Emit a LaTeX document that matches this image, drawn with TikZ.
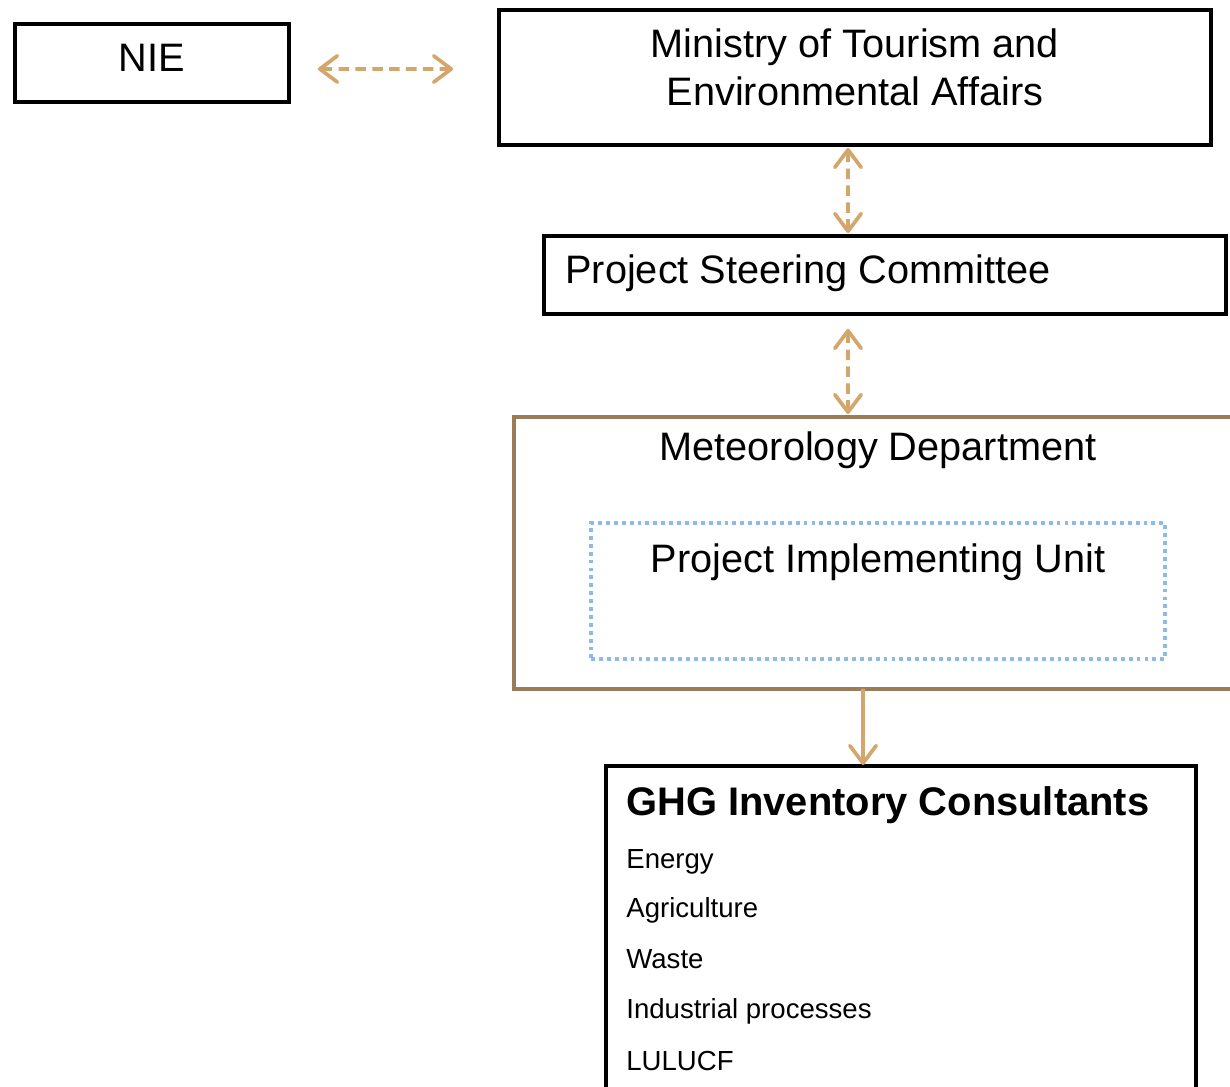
\documentclass[tikz,border=0pt]{standalone}
\usepackage{fontspec}
\setmainfont{Liberation Sans}
\usetikzlibrary{arrows.meta}
\definecolor{linktan}{HTML}{D3A66C}
\definecolor{deptbrown}{HTML}{9B7C56}
\definecolor{unitblue}{HTML}{8DBAE8}
\tikzset{
  frame/.style={draw=black, line width=2.3pt, rectangle, inner sep=0pt, outer sep=0pt},
  deptframe/.style={draw=deptbrown, line width=2.5pt, rectangle, inner sep=0pt, outer sep=0pt},
  unitframe/.style={draw=unitblue, line width=2.3pt, rectangle, inner sep=0pt, outer sep=0pt,
    dash pattern=on 2.2pt off 2.3pt},
  biglabel/.style={font=\fontsize{22.6}{27.2}\selectfont, inner sep=0pt, align=center},
  itemlabel/.style={font=\fontsize{15.7}{19}\selectfont, inner sep=0pt, anchor=base west},
  boldlabel/.style={font=\fontsize{22.7}{26}\selectfont\bfseries, inner sep=0pt, anchor=base west},
  barb/.tip={Straight Barb[length=10pt, width=15pt, round]},
  link/.style={draw=linktan, line width=2.1pt, dash pattern=on 6pt off 3.6pt, barb-barb},
  feed/.style={draw=linktan, line width=2.1pt, -barb},
}
\begin{document}
\begin{tikzpicture}[x=0.02cm, y=-0.02cm]
  \clip (0,0) rectangle (1230,1087);
  \fill[white] (0,0) rectangle (1230,1087);

  % boxes
  \node[frame, minimum width=5.48cm, minimum height=1.56cm] (nie) at (152,63) {};
  \node[frame, minimum width=14.24cm, minimum height=2.7cm] (min) at (855,77.5) {};
  \node[frame, minimum width=13.64cm, minimum height=1.56cm] (psc) at (885,275) {};
  \node[deptframe, minimum width=14.56cm, minimum height=5.44cm] (met) at (878,553) {};
  \node[unitframe, minimum width=11.48cm, minimum height=2.72cm] (piu) at (878,591) {};
  \node[frame, minimum width=11.8cm, minimum height=6.56cm] (ghg) at (901,930) {};

  % box texts
  \node[biglabel, anchor=base] (nietxt) at (152,72) {NIE};
  \node[biglabel, anchor=base] (mintxt) at (855,58) {Ministry of Tourism and};
  \node[biglabel, anchor=base] (mintxtb) at (855,106) {Environmental Affairs};
  \node[biglabel, anchor=base west] (psctxt) at (565,284) {Project Steering Committee};
  \node[biglabel, anchor=base] (mettxt) at (878,460) {Meteorology Department};
  \node[biglabel, anchor=base] (piutxt) at (878,572) {Project Implementing Unit};
  \node[boldlabel] (ghgtxt) at (626,815) {GHG Inventory Consultants};
  \node[itemlabel] (i1) at (626,868) {Energy};
  \node[itemlabel] (i2) at (626,917) {Agriculture};
  \node[itemlabel] (i3) at (626,968) {Waste};
  \node[itemlabel] (i4) at (626,1018) {Industrial processes};
  \node[itemlabel] (i5) at (626,1070) {LULUCF};

  % connectors
  \draw[link] ([xshift=0.58cm, yshift=-0.12cm]nie.east) -- ([xshift=-0.92cm, yshift=0.17cm]min.west);
  \draw[link] ([xshift=-0.14cm, yshift=-0.06cm]min.south) -- ([xshift=-0.74cm, yshift=0.06cm]psc.north);
  \draw[link] ([xshift=-0.74cm, yshift=-0.3cm]psc.south) -- ([xshift=-0.6cm, yshift=0.06cm]met.north);
  \draw[feed] ([xshift=-0.3cm]met.south) -- ([xshift=-0.76cm, yshift=0.02cm]ghg.north);
\end{tikzpicture}
\end{document}
